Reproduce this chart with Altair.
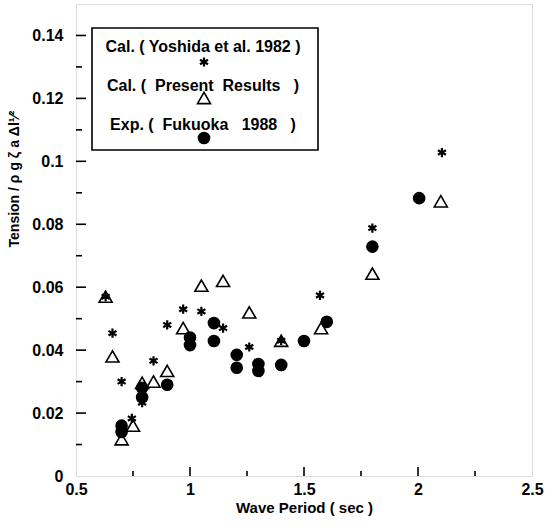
import altair as alt
import pandas as pd

# --- data ---
yoshida_x = [0.63, 0.66, 0.70, 0.745, 0.79, 0.84, 0.90, 0.97, 1.05, 1.145, 1.26, 1.40, 1.57, 1.80, 2.105]
yoshida_y = [0.057, 0.0454, 0.030, 0.0183, 0.0233, 0.0366, 0.048, 0.053, 0.0523, 0.047, 0.041, 0.043, 0.0574, 0.0788, 0.1028]

present_x = [0.63, 0.66, 0.70, 0.75, 0.79, 0.84, 0.90, 0.97, 1.05, 1.145, 1.26, 1.40, 1.575, 1.80, 2.10]
present_y = [0.057, 0.038, 0.0117, 0.016, 0.0296, 0.030, 0.0334, 0.047, 0.0605, 0.062, 0.052, 0.043, 0.047, 0.0643, 0.0873]

fukuoka_x = [0.70, 0.70, 0.79, 0.79, 0.90, 1.00, 1.00, 1.105, 1.105, 1.205, 1.205, 1.30, 1.30, 1.40, 1.50, 1.60, 1.80, 2.005]
fukuoka_y = [0.0160, 0.0140, 0.028, 0.025, 0.029, 0.044, 0.0416, 0.0486, 0.0429, 0.0385, 0.0344, 0.0356, 0.0334, 0.0353, 0.0429, 0.049, 0.0729, 0.0883]

x_major = [0.5, 1.0, 1.5, 2.0, 2.5]
x_minor = [0.75, 1.25, 1.75, 2.25]
y_major = [0.0, 0.02, 0.04, 0.06, 0.08, 0.10, 0.12, 0.14]
y_minor = [0.01, 0.03, 0.05, 0.07, 0.09, 0.11, 0.13]

legend_labels = ["Cal. ( Yoshida et al. 1982 )",
                 "Cal. (\u00a0 Present\u00a0 Results\u00a0\u00a0 )",
                 "Exp. (\u00a0 Fukuoka\u00a0\u00a0 1988\u00a0\u00a0 )"]
y_title = "Tension / \u03c1 g \u03b6 a \u0394l\u00b9\u2044\u00b2"

FONT = "Liberation Sans"
STAR = "M0,-1L0,1M-0.87,-0.5L0.87,0.5M-0.87,0.5L0.87,-0.5"

W, H = 456, 472

xs = alt.Scale(domain=[0.5, 2.5], nice=False, zero=False)
ys = alt.Scale(domain=[0, 0.15], nice=False)

yosh = pd.DataFrame({"x": yoshida_x, "y": yoshida_y})
pres = pd.DataFrame({"x": present_x, "y": present_y})
fuku = pd.DataFrame({"x": fukuoka_x, "y": fukuoka_y})

xaxis = alt.Axis(values=x_major, format="~g", ticks=False, grid=False, domain=False,
                 labelFont=FONT, labelFontSize=16, labelFontWeight="bold", labelColor="black",
                 labelPadding=5, labelFlush=False,
                 title="Wave Period ( sec )", titleFont=FONT, titleFontSize=15,
                 titleFontWeight="bold", titleColor="black", titlePadding=3)
yaxis = alt.Axis(values=y_major, format="~g", ticks=False, grid=False, domain=False,
                 labelFont=FONT, labelFontSize=16, labelFontWeight="bold", labelColor="black",
                 labelPadding=13, title=None)

base_pts = alt.Chart(fuku).mark_circle(size=160, color="black", opacity=1).encode(
    x=alt.X("x:Q", scale=xs, axis=xaxis),
    y=alt.Y("y:Q", scale=ys, axis=yaxis),
)

tri = alt.Chart(pres).mark_point(shape="triangle-up", size=170, filled=False, color="black",
                                 strokeWidth=1.6, opacity=1).encode(
    x=alt.X("x:Q", scale=xs), y=alt.Y("y:Q", scale=ys))

star = alt.Chart(yosh).mark_point(shape=STAR, size=85, filled=False, color="black",
                                  strokeWidth=2.2, opacity=1).encode(
    x=alt.X("x:Q", scale=xs), y=alt.Y("y:Q", scale=ys))

# inward ticks (bottom and left)
xmaj = alt.Chart(pd.DataFrame({"t": x_major[1:-1]})).mark_rule(color="black", strokeWidth=1.6).encode(
    x=alt.X("t:Q", scale=xs), y=alt.value(H), y2=alt.value(H - 9))
xmin = alt.Chart(pd.DataFrame({"t": x_minor})).mark_rule(color="black", strokeWidth=1.6).encode(
    x=alt.X("t:Q", scale=xs), y=alt.value(H), y2=alt.value(H - 5))
ymaj = alt.Chart(pd.DataFrame({"t": y_major[1:]})).mark_rule(color="black", strokeWidth=1.6).encode(
    y=alt.Y("t:Q", scale=ys), x=alt.value(0), x2=alt.value(10))
ymin = alt.Chart(pd.DataFrame({"t": y_minor})).mark_rule(color="black", strokeWidth=1.6).encode(
    y=alt.Y("t:Q", scale=ys), x=alt.value(0), x2=alt.value(6))

one = pd.DataFrame({"a": [0]})

# y-axis title as rotated text
ytitle = alt.Chart(one).mark_text(text=y_title, font=FONT, fontSize=14, fontWeight="bold", color="black",
                                  angle=270, align="center", baseline="middle").encode(
    x=alt.value(-61), y=alt.value(175))

# custom legend (box, labels, symbols below labels)
box = alt.Chart(one).mark_rect(fill=None, stroke="black", strokeWidth=1.6).encode(
    x=alt.value(16), x2=alt.value(242), y=alt.value(24), y2=alt.value(146))

leg_layers = [box]
text_y = [43, 82, 121]
sym_y = [58, 94, 134]
for i, lab in enumerate(legend_labels):
    leg_layers.append(alt.Chart(one).mark_text(text=lab, font=FONT, fontSize=16, fontWeight="bold",
                                               color="black", align="center", baseline="middle").encode(
        x=alt.value(127), y=alt.value(text_y[i])))
leg_layers.append(alt.Chart(one).mark_point(shape=STAR, size=85, filled=False, color="black",
                                            strokeWidth=2.2, opacity=1).encode(
    x=alt.value(128), y=alt.value(sym_y[0])))
leg_layers.append(alt.Chart(one).mark_point(shape="triangle-up", size=170, filled=False, color="black",
                                            strokeWidth=1.6, opacity=1).encode(
    x=alt.value(128), y=alt.value(sym_y[1])))
leg_layers.append(alt.Chart(one).mark_circle(size=160, color="black", opacity=1).encode(
    x=alt.value(128), y=alt.value(sym_y[2])))

chart = alt.layer(base_pts, tri, star, xmaj, xmin, ymaj, ymin, ytitle, *leg_layers).properties(
    width=W, height=H,
    autosize=alt.AutoSizeParams(type="none"),
    padding={"left": 76, "top": 4, "right": 14, "bottom": 54},
).configure_view(stroke="black", strokeWidth=2.2).configure(background="white")

chart.save("out.html", embed_options={"renderer": "svg", "actions": False})
